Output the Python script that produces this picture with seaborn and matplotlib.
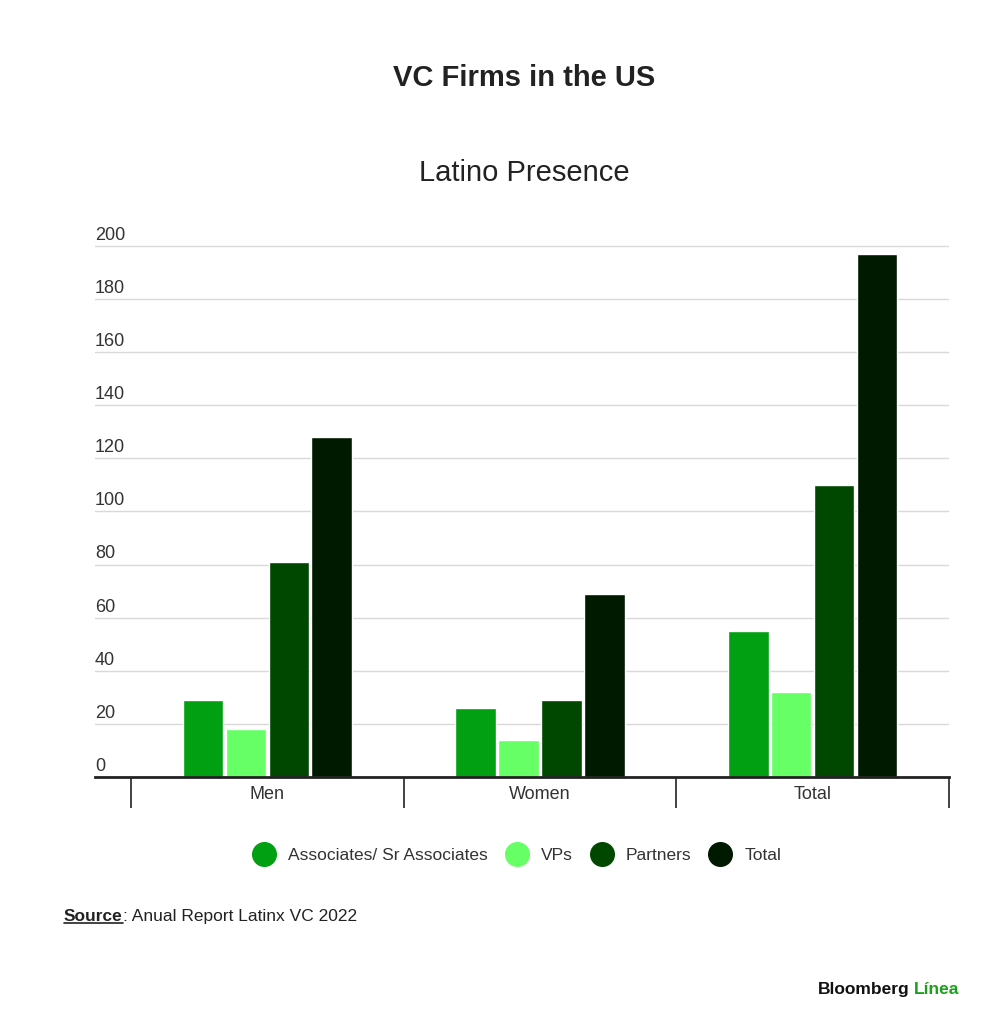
import numpy as np
import pandas as pd
import seaborn as sns
from matplotlib import pyplot as plt
from matplotlib.lines import Line2D

# === Data ===
groups = ["Men", "Women", "Total"]
roles = ["Associates/ Sr Associates", "VPs", "Partners", "Total"]
associates = [29, 26, 55]
vps = [18, 14, 32]
partners = [81, 29, 110]
totals = [128, 69, 197]
y_ticks = [0, 20, 40, 60, 80, 100, 120, 140, 160, 180, 200]

colors = ["#00a012", "#66ff66", "#004800", "#001a00"]

df = pd.DataFrame({
    "group": groups * 4,
    "role": np.repeat(roles, len(groups)),
    "value": associates + vps + partners + totals,
})

sns.set_theme(style="white")
plt.rcParams["font.family"] = ["Liberation Sans", "DejaVu Sans"]

fig = plt.figure(figsize=(10, 10.32), dpi=100)
ax = fig.add_axes([0.095, 0.2471, 0.854, 0.5197])

sns.barplot(data=df, x="group", y="value", hue="role", hue_order=roles,
            palette=colors, width=0.63, gap=0.055, saturation=1,
            legend=False, ax=ax)

ax.set_xlim(-0.632, 2.5)
ax.set_ylim(0, 202)

# gridlines + labels sitting on them
ax.set_yticks(y_ticks)
ax.set_yticklabels([])
ax.tick_params(axis="y", length=0)
ax.grid(axis="y", color="#d9d9d9", linewidth=1)
ax.set_axisbelow(True)
for t in y_ticks:
    ax.text(0.0, t + 0.8, str(t), transform=ax.get_yaxis_transform(),
            ha="left", va="bottom", fontsize=13, color="#333333")

for s in ["top", "right", "left"]:
    ax.spines[s].set_visible(False)
ax.spines["bottom"].set_color("#222222")
ax.spines["bottom"].set_linewidth(2)

# category separators
ax.set_xticks(np.arange(len(groups)))
ax.set_xticklabels(groups, fontsize=13, color="#333333")
ax.tick_params(axis="x", which="major", length=0, pad=6.5)
ax.set_xticks([-0.5, 0.5, 1.5, 2.5], minor=True)
ax.tick_params(axis="x", which="minor", bottom=True, length=22.5, width=1.2,
               color="#222222", direction="out")
ax.set_xlabel("")
ax.set_ylabel("")

fig.text(0.524, 0.924, "VC Firms in the US", ha="center", va="center",
         fontsize=21, fontweight="bold", color="#222222")
fig.text(0.524, 0.832, "Latino Presence", ha="center", va="center",
         fontsize=21, color="#222222")

handles = [Line2D([0], [0], marker="o", linestyle="", markersize=17,
                  markerfacecolor=c, markeredgecolor=c) for c in colors]
fig.legend(handles, roles, loc="center", bbox_to_anchor=(0.514, 0.171), ncol=4,
           frameon=False, fontsize=12.5, handletextpad=0.4, columnspacing=0.65,
           labelcolor="#333333")

src = fig.text(0.064, 0.112, "Source", ha="left", va="center", fontsize=12.5,
               fontweight="bold", color="#222222")
fig.canvas.draw()
bb = src.get_window_extent().transformed(fig.transFigure.inverted())
fig.add_artist(Line2D([bb.x0, bb.x1], [bb.y0 + 0.001, bb.y0 + 0.001],
                      transform=fig.transFigure, color="#222222", linewidth=1.2))
fig.text(bb.x1, 0.112, ": Anual Report Latinx VC 2022", ha="left", va="center",
         fontsize=12.5, color="#222222")

fig.text(0.818, 0.041, "Bloomberg", ha="left", va="center", fontsize=12.5,
         fontweight="bold", color="#111111")
fig.text(0.914, 0.041, "Línea", ha="left", va="center", fontsize=12.5,
         fontweight="bold", color="#1aa01a")

fig.savefig("out.png", dpi=100, facecolor="white")
